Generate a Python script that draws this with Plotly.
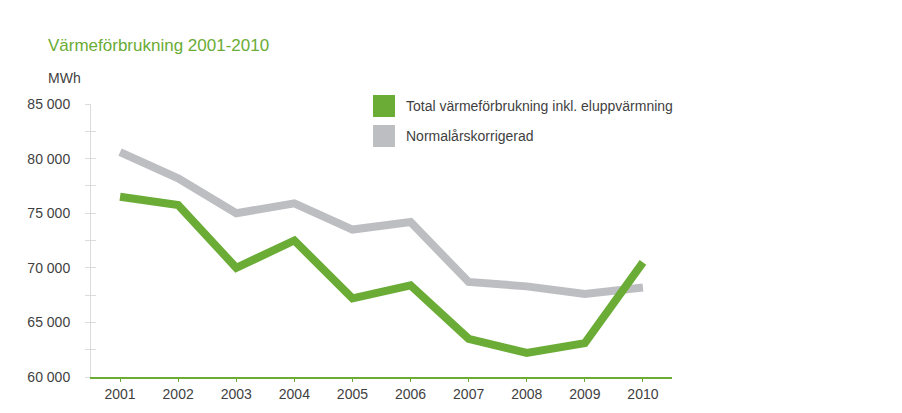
import plotly.graph_objects as go

years = ["2001", "2002", "2003", "2004", "2005", "2006", "2007", "2008", "2009", "2010"]
total = [76500, 75750, 70000, 72500, 67200, 68400, 63500, 62200, 63100, 70500]
normal = [80600, 78200, 75000, 75900, 73500, 74200, 68700, 68300, 67600, 68200]
series_names = ["Total värmeförbrukning inkl. eluppvärmning", "Normalårskorrigerad"]
ytick_vals = [60000, 62500, 65000, 67500, 70000, 72500, 75000, 77500, 80000, 82500, 85000]
ytick_text = ["60 000", "", "65 000", "", "70 000", "", "75 000", "", "80 000", "", "85 000"]
title_text = "Värmeförbrukning 2001-2010"
unit_text = "MWh"

GREEN = "#6aac35"
GRAY = "#bdbec2"
FONT = "Liberation Sans, Arial, sans-serif"
TXT = "#3f3f3f"

# page has an 8px body margin; plot area in screen px: x 91..672, y 104..377
PL, PR, PT, PB = 91, 672, 104, 377
OFF = 8

fig = go.Figure()
fig.add_trace(go.Scatter(x=years, y=normal, mode="lines", name=series_names[1],
                         line=dict(color=GRAY, width=8), showlegend=False))
fig.add_trace(go.Scatter(x=years, y=total, mode="lines", name=series_names[0],
                         line=dict(color=GREEN, width=8), showlegend=False))
fig.add_trace(go.Scatter(x=years, y=total, yaxis="y2", mode="lines",
                         line=dict(width=0), hoverinfo="skip", showlegend=False, opacity=0))

fig.update_layout(
    width=902, height=413,
    margin=dict(l=PL - OFF, r=902 + OFF - PR, t=PT - OFF, b=413 + OFF - PB, autoexpand=False),
    paper_bgcolor="white", plot_bgcolor="white",
    font=dict(family=FONT, size=14, color=TXT),
    xaxis=dict(type="category", range=[-0.5, 9.5], showgrid=False, zeroline=False,
               showline=True, linecolor=GREEN, linewidth=1.5,
               ticks="outside", ticklen=3, tickcolor=GREEN, tickwidth=1,
               tickfont=dict(size=14, color=TXT)),
    yaxis=dict(range=[60000, 85000], showgrid=False, zeroline=False,
               showline=True, linecolor="#dcdcdc", linewidth=1,
               tickvals=ytick_vals, ticktext=ytick_text,
               ticks="outside", ticklen=5, tickcolor="#dcdcdc", tickwidth=1,
               ticklabelstandoff=12, tickfont=dict(size=14, color=TXT)),
    yaxis2=dict(range=[60000, 85000], overlaying="y", side="left", showgrid=False,
                zeroline=False, showline=False, tickvals=ytick_vals,
                showticklabels=False, ticks="inside", ticklen=5,
                tickcolor="#dcdcdc", tickwidth=1),
    showlegend=False,
)

W = PR - PL
H = PB - PT


def px(x):
    return (x - PL) / W


def py(y):
    return (PB - y) / H


fig.add_annotation(text=title_text, xref="paper", yref="paper", x=px(46), y=py(45),
                   xanchor="left", yanchor="middle", showarrow=False,
                   font=dict(size=17, color=GREEN, family=FONT))
fig.add_annotation(text=unit_text, xref="paper", yref="paper", x=px(46), y=py(78),
                   xanchor="left", yanchor="middle", showarrow=False,
                   font=dict(size=14, color=TXT, family=FONT))

leg_items = [(series_names[0], GREEN, 106), (series_names[1], GRAY, 136)]
for name, col, ypix in leg_items:
    fig.add_shape(type="rect", xref="paper", yref="paper",
                  x0=px(373), x1=px(395), y0=py(ypix + 11), y1=py(ypix - 11),
                  fillcolor=col, line=dict(width=0))
    fig.add_annotation(text=name, xref="paper", yref="paper",
                       x=px(404), y=py(ypix),
                       xanchor="left", yanchor="middle", showarrow=False,
                       font=dict(size=14, color=TXT, family=FONT))

fig.write_html("out.html")
